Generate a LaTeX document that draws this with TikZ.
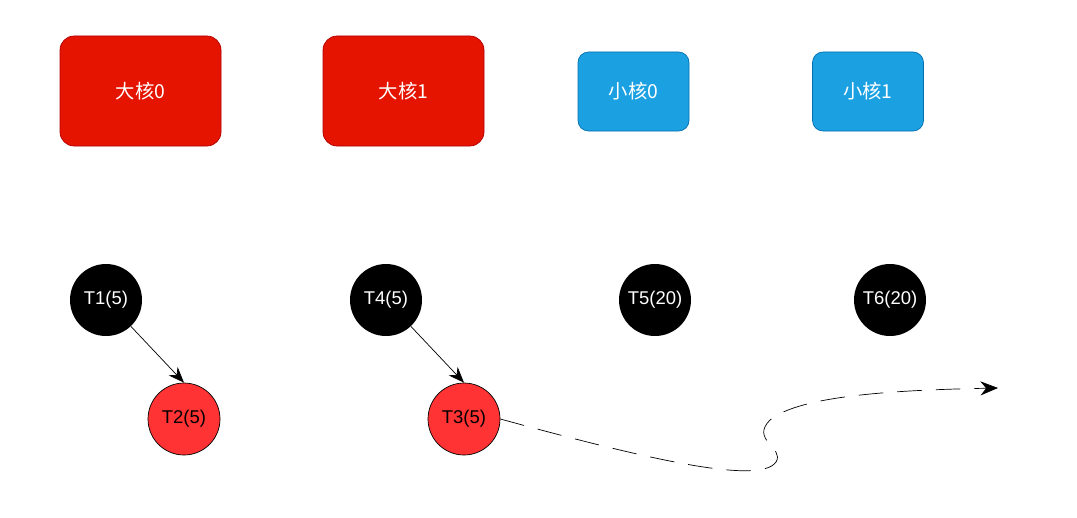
\documentclass[tikz,border=0pt]{standalone}
\usepackage{fontspec}
\setmainfont{Liberation Sans}
\newfontfamily\cjk{Noto Sans CJK SC}
\usetikzlibrary{arrows.meta}
\definecolor{bigred}{HTML}{E51400}
\definecolor{bigline}{HTML}{B20000}
\definecolor{smallblue}{HTML}{1BA1E2}
\definecolor{smallline}{HTML}{006EAF}
\definecolor{taskred}{HTML}{FF3333}
\tikzset{
  bigcore/.style={draw=bigline, fill=bigred, rounded corners=8pt, minimum width=161*0.02cm, minimum height=110*0.02cm, text=white, font=\cjk\fontsize{11}{13}\selectfont},
  smallcore/.style={draw=smallline, fill=smallblue, rounded corners=6pt, minimum width=111*0.02cm, minimum height=79*0.02cm, text=white, font=\cjk\fontsize{11}{13}\selectfont},
  runtask/.style={circle, fill=black, minimum size=72*0.02cm, inner sep=0pt, text=white, font=\fontsize{10.5}{12}\selectfont},
  waittask/.style={circle, draw=black, fill=taskred, minimum size=72*0.02cm, inner sep=0pt, text=black, font=\fontsize{10.5}{12}\selectfont}
}
\begin{document}
\begin{tikzpicture}[x=0.02cm, y=-0.02cm]
  \useasboundingbox (0,0) rectangle (1077,517);
  % cores
  \node[bigcore] (big0) at (140.5,91) {大核0};
  \node[bigcore] (big1) at (403.5,91) {大核1};
  \node[smallcore] (small0) at (633.5,91.5) {小核0};
  \node[smallcore] (small1) at (868,91.5) {小核1};
  % tasks
  \node[runtask] (t1) at (106,300) {T1(5)};
  \node[runtask] (t4) at (386,300) {T4(5)};
  \node[runtask] (t5) at (655,300) {T5(20)};
  \node[runtask] (t6) at (890,300) {T6(20)};
  \node[waittask] (t2) at (184,419) {T2(5)};
  \node[waittask] (t3) at (464,419) {T3(5)};
  \coordinate (out) at (998,388);
  % edges
  \draw[-{Stealth[length=9pt,width=7pt]}] (t1) -- (t2.north);
  \draw[-{Stealth[length=9pt,width=7pt]}] (t4) -- (t3.north);
  \draw[dash pattern=on 14pt off 8pt, -{Stealth[length=10pt,width=8pt]}] (t3.east) .. controls (650,460) and (760,485) .. (776,462)
    .. controls (785,448) and (750,440) .. (770,420)
    .. controls (800,395) and (900,390) .. (out);
\end{tikzpicture}
\end{document}
